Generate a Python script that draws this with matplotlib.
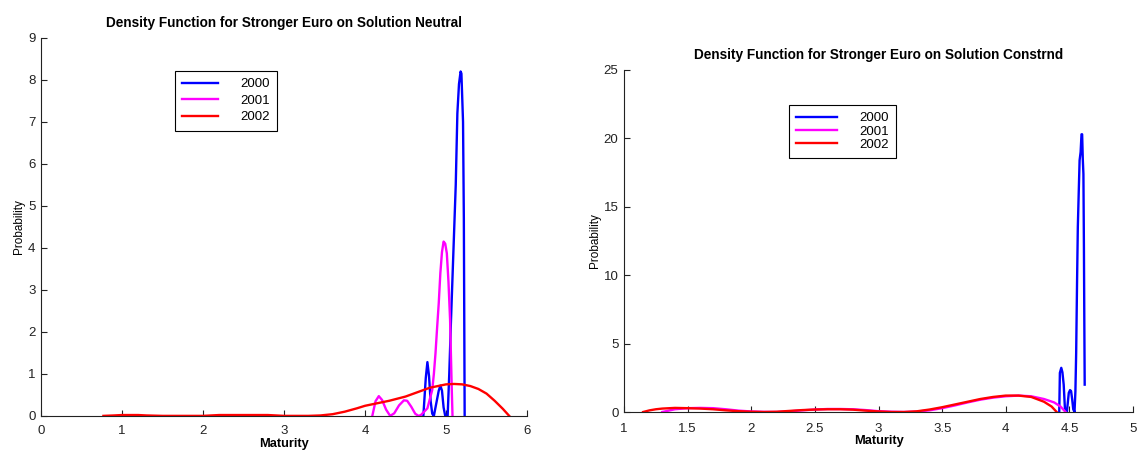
import matplotlib
matplotlib.use('Agg')
import matplotlib.pyplot as plt

plt.rcParams['font.family'] = ['Liberation Sans', 'DejaVu Sans']

years = ['2000', '2001', '2002']
colors = ['#0000ff', '#ff00ff', '#ff0000']

# left panel: solution neutral
neu_x00 = [4.72, 4.75, 4.77, 4.79, 4.81, 4.83, 4.85, 4.88, 4.91, 4.93, 4.95, 4.97, 4.99, 5.02,
           5.04, 5.06, 5.08, 5.10, 5.12, 5.14, 5.16, 5.18, 5.19, 5.21, 5.22, 5.23]
neu_y00 = [0, 0.9, 1.28, 0.95, 0.35, 0.05, 0, 0.3, 0.6, 0.72, 0.6, 0.2, 0, 0,
           1.0, 2.2, 3.3, 4.4, 5.5, 7.2, 7.9, 8.2, 8.15, 7.0, 4.7, 0]
neu_x01 = [4.09, 4.13, 4.17, 4.21, 4.26, 4.31, 4.36, 4.42, 4.48, 4.52, 4.57, 4.62, 4.66, 4.69,
           4.73, 4.77, 4.80, 4.83, 4.85, 4.87, 4.89, 4.91, 4.93, 4.95, 4.97, 4.99, 5.01, 5.03,
           5.05, 5.07, 5.08]
neu_y01 = [0, 0.35, 0.47, 0.38, 0.15, 0, 0.06, 0.25, 0.37, 0.36, 0.22, 0.05, 0, 0.02,
           0.1, 0.18, 0.4, 0.62, 1.0, 1.49, 2.1, 2.68, 3.4, 3.9, 4.15, 4.1, 3.87, 3.2,
           2.29, 0.7, 0]
neu_x02 = [0.77, 0.9, 1.0, 1.1, 1.2, 1.3, 1.5, 2.0, 2.1, 2.2, 2.5, 2.8, 2.9, 3.0, 3.3, 3.45,
           3.6, 3.75, 3.9, 4.0, 4.1, 4.2, 4.3, 4.4, 4.5, 4.6, 4.7, 4.8, 4.9, 5.0, 5.1, 5.2,
           5.3, 5.4, 5.5, 5.6, 5.7, 5.78]
neu_y02 = [0, 0.01, 0.02, 0.02, 0.02, 0.01, 0, 0, 0.01, 0.02, 0.02, 0.02, 0.01, 0, 0, 0.01,
           0.04, 0.1, 0.18, 0.24, 0.28, 0.32, 0.36, 0.41, 0.46, 0.53, 0.6, 0.67, 0.71, 0.75, 0.76, 0.75,
           0.71, 0.64, 0.53, 0.36, 0.17, 0]

# right panel: solution constrained
con_x00 = [4.42, 4.425, 4.436, 4.445, 4.455, 4.465, 4.48, 4.495, 4.505, 4.513, 4.522, 4.53, 4.54,
           4.547, 4.553, 4.56, 4.566, 4.573, 4.58, 4.588, 4.595, 4.60, 4.605, 4.61, 4.614, 4.617, 4.62]
con_y00 = [0, 2.86, 3.23, 2.9, 2.0, 0.2, 0, 1.4, 1.6, 1.53, 0.9, 0.2, 0,
           1.5, 4.3, 9.5, 13.5, 16.0, 18.4, 19.0, 20.3, 20.3, 18.5, 17.4, 12, 6.7, 2.0]
con_x01 = [1.3, 1.35, 1.4, 1.5, 1.6, 1.7, 1.8, 1.9, 2.0, 2.1, 2.2, 2.3, 2.4, 2.5, 2.6, 2.7, 2.8,
           2.9, 3.0, 3.1, 3.2, 3.3, 3.4, 3.5, 3.6, 3.7, 3.8, 3.9, 4.0, 4.1, 4.2, 4.3, 4.38, 4.43, 4.47]
con_y01 = [0, 0.1, 0.2, 0.28, 0.3, 0.28, 0.2, 0.1, 0.04, 0.01, 0.0, 0.05, 0.12, 0.18, 0.22, 0.22, 0.2,
           0.14, 0.06, 0.02, 0, 0.03, 0.12, 0.28, 0.48, 0.7, 0.9, 1.05, 1.15, 1.2, 1.15, 0.95, 0.7, 0.4, 0]
con_x02 = [1.15, 1.2, 1.25, 1.3, 1.4, 1.5, 1.6, 1.7, 1.8, 1.9, 2.0, 2.1, 2.2, 2.3, 2.4, 2.5, 2.6,
           2.7, 2.8, 2.9, 3.0, 3.1, 3.2, 3.3, 3.4, 3.5, 3.6, 3.7, 3.8, 3.9, 4.0, 4.1, 4.2, 4.3, 4.36, 4.40]
con_y02 = [0, 0.12, 0.2, 0.25, 0.3, 0.28, 0.25, 0.2, 0.12, 0.06, 0.02, 0, 0.02, 0.08, 0.14, 0.18, 0.2,
           0.2, 0.17, 0.1, 0.04, 0, 0, 0.05, 0.18, 0.35, 0.55, 0.75, 0.95, 1.1, 1.2, 1.2, 1.1, 0.75, 0.4, 0]

neu_xticks = [0, 1, 2, 3, 4, 5, 6]
neu_yticks = [0, 1, 2, 3, 4, 5, 6, 7, 8, 9]
con_xticks = [1, 1.5, 2, 2.5, 3, 3.5, 4, 4.5, 5]
con_yticks = [0, 5, 10, 15, 20, 25]

fig = plt.figure(figsize=(11.4, 4.55), dpi=100)
ax1 = fig.add_axes([0.036, 0.086, 0.4263, 0.8308])
ax2 = fig.add_axes([0.5474, 0.0945, 0.4465, 0.7517])


def style(ax, title, xlim, ylim, xticks, yticks, pad, xpad, labpad):
    ax.set_xlim(xlim)
    ax.set_ylim(ylim)
    ax.set_xticks(xticks)
    ax.set_xticklabels(['%g' % v for v in xticks])
    ax.set_yticks(yticks)
    for s in ['top', 'right']:
        ax.spines[s].set_visible(False)
    for s in ['left', 'bottom']:
        ax.spines[s].set_color('#222222')
        ax.spines[s].set_linewidth(0.8)
    ax.tick_params(direction='in', length=4, labelsize=9.5, colors='#222222', pad=4)
    ax.tick_params(axis='x', pad=xpad)
    ax.set_title(title, fontsize=9.8, fontweight='bold', pad=pad)
    ax.set_xlabel('Maturity', fontsize=9.3, fontweight='bold', labelpad=labpad)
    ax.set_ylabel('Probability', fontsize=8.5, labelpad=2)


for x, y, c, lab in zip([neu_x00, neu_x01, neu_x02], [neu_y00, neu_y01, neu_y02], colors, years):
    ax1.plot(x, y, color=c, lw=1.7, label=lab)
for x, y, c, lab in zip([con_x00, con_x01, con_x02], [con_y00, con_y01, con_y02], colors, years):
    ax2.plot(x, y, color=c, lw=1.7, label=lab)

style(ax1, 'Density Function for Stronger Euro on Solution Neutral', (0, 6), (0, 9),
      neu_xticks, neu_yticks, 8, 6.5, 1)
style(ax2, 'Density Function for Stronger Euro on Solution Constrnd', (1, 5), (0, 25),
      con_xticks, con_yticks, 8, 8, 0)

legs = [(ax1, (175 / 1140, 1 - 71 / 455), 2.7, 0.32),
        (ax2, (789 / 1140, 1 - 105 / 455), 3.1, 0.08)]
for ax, anchor, hl, ls in legs:
    leg = ax.legend(loc='upper left', bbox_to_anchor=anchor, bbox_transform=fig.transFigure,
                    fontsize=9.5, frameon=True, fancybox=False, framealpha=1,
                    handlelength=hl, handletextpad=1.7, borderpad=0.55, labelspacing=ls,
                    borderaxespad=0)
    leg.get_frame().set_edgecolor('black')
    leg.get_frame().set_linewidth(0.8)

fig.savefig('out.png', dpi=100)
